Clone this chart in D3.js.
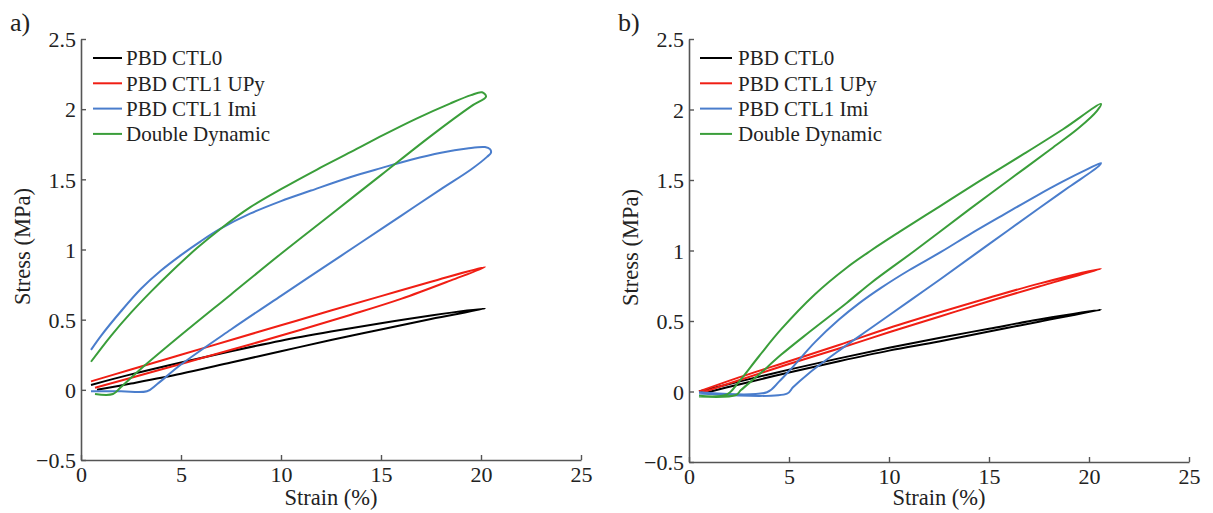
<!DOCTYPE html>
<html><head><meta charset="utf-8">
<script src="https://cdn.jsdelivr.net/npm/d3@7"></script>
<style>body{margin:0;background:#fff}svg text{font-family:"Liberation Serif","Times New Roman",serif;fill:#222}</style>
</head><body>
<svg id="c" width="1213" height="513"></svg>
<script>
// ---------- data ----------
const seriesNames = ["PBD CTL0", "PBD CTL1 UPy", "PBD CTL1 Imi", "Double Dynamic"];
const seriesColors = ["#000000", "#f01e14", "#4a7dcc", "#3a9e3a"];
const xTicks = [0, 5, 10, 15, 20, 25];
const yTicks = [-0.5, 0, 0.5, 1, 1.5, 2, 2.5];
const panelLabels = ["a)", "b)"];

// Panel a: each loop = upper branch (left→right) + lower branch (right→left)
const a_ctl0_upX = [0.5, 2.5, 5, 7.5, 10, 12.5, 15, 17.5, 20.2];
const a_ctl0_upY = [0.035, 0.11, 0.195, 0.275, 0.35, 0.415, 0.475, 0.53, 0.58];
const a_ctl0_loX = [17.5, 15, 12.5, 10, 7.5, 5, 2.5, 0.8];
const a_ctl0_loY = [0.505, 0.43, 0.355, 0.275, 0.195, 0.115, 0.045, 0.0];

const a_upy_upX = [0.5, 2.5, 5, 7.5, 10, 12.5, 15, 17.5, 20.2];
const a_upy_upY = [0.06, 0.145, 0.25, 0.355, 0.46, 0.565, 0.668, 0.77, 0.875];
const a_upy_loX = [18.5, 16, 13.5, 11, 8.5, 6, 3.5, 0.7];
const a_upy_loY = [0.78, 0.648, 0.535, 0.428, 0.325, 0.225, 0.125, 0.015];

const a_imi_upX = [0.5, 1, 2, 3, 4, 5, 6, 7, 8.45, 10, 11.5, 13.45, 15, 16.5, 18, 19.3, 20.2, 20.45];
const a_imi_upY = [0.285, 0.385, 0.56, 0.72, 0.85, 0.96, 1.06, 1.15, 1.255, 1.345, 1.42, 1.515, 1.58, 1.64, 1.69, 1.72, 1.73, 1.715];
const a_imi_loX = [20.5, 20.3, 19.5, 18, 16, 14, 12, 10, 7.5, 5, 3.8, 3.3, 2, 0.5];
const a_imi_loY = [1.69, 1.66, 1.57, 1.43, 1.24, 1.05, 0.86, 0.67, 0.43, 0.18, 0.04, -0.01, -0.01, -0.01];

const a_dd_upX = [0.5, 1.5, 2.5, 3.5, 4.5, 5.8, 7, 8.45, 10, 11.8, 13.5, 15.1, 16.8, 18.45, 19.5, 20.05];
const a_dd_upY = [0.2, 0.385, 0.55, 0.70, 0.84, 1.01, 1.15, 1.30, 1.43, 1.57, 1.695, 1.815, 1.935, 2.04, 2.10, 2.12];
const a_dd_loX = [20.25, 19.5, 17.5, 15, 12.5, 10, 7.5, 5, 3, 2, 1.6, 0.7];
const a_dd_loY = [2.09, 2.02, 1.81, 1.53, 1.25, 0.97, 0.68, 0.39, 0.15, 0.02, -0.03, -0.03];

// Panel b
const b_ctl0_upX = [0.5, 2.5, 5, 7.5, 10, 12.5, 15, 17.5, 20.6];
const b_ctl0_upY = [0.0, 0.07, 0.155, 0.235, 0.31, 0.38, 0.445, 0.51, 0.58];
const b_ctl0_loX = [17.5, 15, 12.5, 10, 7.5, 5, 2.5, 0.8];
const b_ctl0_loY = [0.495, 0.425, 0.355, 0.29, 0.215, 0.135, 0.05, -0.01];

const b_upy_upX = [0.5, 2.5, 5, 7.5, 10, 12.5, 15, 17.5, 20.6];
const b_upy_upY = [0.0, 0.10, 0.215, 0.33, 0.45, 0.56, 0.665, 0.765, 0.87];
const b_upy_loX = [17.5, 15, 12.5, 10, 7.5, 5, 2.5, 0.7];
const b_upy_loY = [0.745, 0.64, 0.53, 0.42, 0.305, 0.195, 0.08, -0.005];

const b_imi_upX = [0.5, 3.9, 4.5, 5.1, 6.3, 7.5, 8.5, 9.6, 11, 12.6, 14.1, 15.8, 17.4, 18.7, 19.9, 20.6];
const b_imi_upY = [-0.005, -0.005, 0.07, 0.16, 0.35, 0.51, 0.625, 0.735, 0.86, 0.99, 1.12, 1.26, 1.39, 1.49, 1.575, 1.62];
const b_imi_loX = [20.5, 19, 17.5, 15, 12.6, 11.1, 9.1, 7.5, 6, 5.2, 4.9, 0.5];
const b_imi_loY = [1.60, 1.45, 1.30, 1.045, 0.80, 0.65, 0.45, 0.29, 0.13, 0.03, -0.015, -0.015];

const b_dd_upX = [0.5, 1.9, 2.5, 3.5, 4.6, 6.3, 7.9, 9.1, 10.5, 12.5, 14.5, 16.8, 18.7, 20.6];
const b_dd_upY = [-0.03, -0.02, 0.07, 0.25, 0.44, 0.69, 0.88, 1.0, 1.13, 1.31, 1.49, 1.69, 1.86, 2.04];
const b_dd_loX = [20.4, 19.5, 18.1, 16, 14, 11.3, 9.1, 7.9, 6, 4.6, 3.5, 2.6, 2.35, 0.5];
const b_dd_loY = [1.99, 1.87, 1.72, 1.50, 1.29, 1.0, 0.77, 0.63, 0.42, 0.26, 0.12, 0.01, -0.025, -0.035];

const panelA = [[a_ctl0_upX, a_ctl0_upY, a_ctl0_loX, a_ctl0_loY],
                [a_upy_upX, a_upy_upY, a_upy_loX, a_upy_loY],
                [a_imi_upX, a_imi_upY, a_imi_loX, a_imi_loY],
                [a_dd_upX, a_dd_upY, a_dd_loX, a_dd_loY]];
const panelB = [[b_ctl0_upX, b_ctl0_upY, b_ctl0_loX, b_ctl0_loY],
                [b_upy_upX, b_upy_upY, b_upy_loX, b_upy_loY],
                [b_imi_upX, b_imi_upY, b_imi_loX, b_imi_loY],
                [b_dd_upX, b_dd_upY, b_dd_loX, b_dd_loY]];

// ---------- drawing ----------
const svg = d3.select("#c");
const axisColor = "#555";
const serif = "'Liberation Serif', 'Times New Roman', serif";

function drawPanel(cfg) {
  const x = d3.scaleLinear().domain([0, 25]).range([cfg.left, cfg.right]);
  const y = d3.scaleLinear().domain([-0.5, 2.5]).range([cfg.bottom, cfg.top]);
  const g = svg.append("g");

  // curves
  const line = d3.line().x(d => x(d[0])).y(d => y(d[1])).curve(d3.curveCatmullRom.alpha(0.5));
  cfg.data.forEach((s, i) => {
    const pts = s[0].map((v, k) => [v, s[1][k]]).concat(s[2].map((v, k) => [v, s[3][k]]));
    g.append("path").attr("d", line(pts)).attr("fill", "none")
      .attr("stroke", seriesColors[i]).attr("stroke-width", 2).attr("stroke-linejoin", "round");
  });

  // axes
  const xa = g.append("g").attr("transform", `translate(0,${cfg.bottom})`)
    .call(d3.axisBottom(x).tickValues(xTicks).tickSizeInner(-5).tickSizeOuter(0).tickPadding(6).tickFormat(d3.format("d")));
  const ya = g.append("g").attr("transform", `translate(${cfg.left},0)`)
    .call(d3.axisLeft(y).tickValues(yTicks).tickSizeInner(-5).tickSizeOuter(0).tickPadding(5)
      .tickFormat(d => d === 0 ? "0" : (d < 0 ? "\u2212" + Math.abs(d) : String(d))));
  [xa, ya].forEach(a => {
    a.attr("font-family", null).attr("font-size", null);
    a.select(".domain").attr("stroke", axisColor).attr("stroke-width", 1.6);
    a.selectAll(".tick line").attr("stroke", axisColor).attr("stroke-width", 1.4);
    a.selectAll(".tick text").style("font-size", "22px").style("fill", "#222").style("font-family", serif);
  });
  ya.selectAll(".tick text").attr("dy", "0.35em");

  // axis titles
  g.append("text").attr("x", (cfg.left + cfg.right) / 2).attr("y", 505).attr("text-anchor", "middle")
    .style("font-size", "22.5px").style("font-family", serif).text("Strain (%)");
  g.append("text").attr("transform", `translate(${cfg.left - 51},${(cfg.top + cfg.bottom) / 2 - 3}) rotate(-90)`)
    .attr("text-anchor", "middle").style("font-size", "22.5px").style("font-family", serif).text("Stress (MPa)");

  // panel label
  g.append("text").attr("x", cfg.left - 71).attr("y", 31).style("font-size", "26px").style("font-family", serif).text(cfg.label);

  // legend
  seriesNames.forEach((n, i) => {
    const yy = 58 + i * 25.3;
    g.append("line").attr("x1", cfg.legX).attr("x2", cfg.legX + cfg.legLen).attr("y1", yy).attr("y2", yy)
      .attr("stroke", seriesColors[i]).attr("stroke-width", 2);
    g.append("text").attr("x", cfg.legX + cfg.legLen + cfg.legGap).attr("y", yy).attr("dy", "0.35em")
      .style("font-size", "21px").style("font-family", serif).text(n);
  });
}

drawPanel({left: 81, right: 581, top: 39, bottom: 460, data: panelA, label: panelLabels[0], legX: 93, legLen: 29, legGap: 4});
drawPanel({left: 689, right: 1189, top: 39, bottom: 462, data: panelB, label: panelLabels[1], legX: 700, legLen: 32, legGap: 6});
</script>
</body></html>
